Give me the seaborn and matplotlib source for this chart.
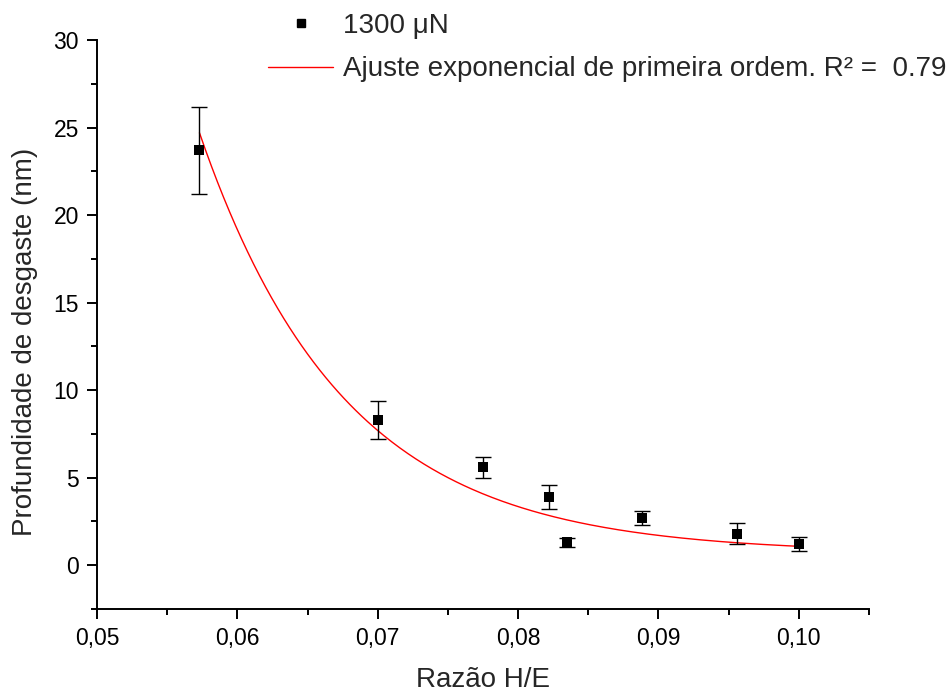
import numpy as np
import pandas as pd
import matplotlib
matplotlib.use("Agg")
import matplotlib.pyplot as plt
import seaborn as sns
from matplotlib.ticker import FixedLocator, FixedFormatter, MultipleLocator
from matplotlib.lines import Line2D

# ---- data ----
he_ratio = [0.0573, 0.0700, 0.0775, 0.0822, 0.0835, 0.0888, 0.0956, 0.1000]
depth = [23.7, 8.3, 5.6, 3.9, 1.3, 2.7, 1.8, 1.2]
depth_err = [2.5, 1.1, 0.6, 0.7, 0.28, 0.4, 0.6, 0.39]

# first-order exponential fit parameters (y = y0 + A*exp(-(x-x0)/t))
fit_y0 = 0.7
fit_A = 24.0
fit_x0 = 0.0573
fit_t = 0.0103
fit_start, fit_end = 0.0573, 0.1000

x_ticks = [0.05, 0.06, 0.07, 0.08, 0.09, 0.10]
x_tick_labels = ["0,05", "0,06", "0,07", "0,08", "0,09", "0,10"]
y_ticks = [0, 5, 10, 15, 20, 25, 30]
y_tick_labels = ["0", "5", "10", "15", "20", "25", "30"]

series_label = "1300 μN"
fit_label = "Ajuste exponencial de primeira ordem. R² =  0.79"
x_label = "Razão H/E"
y_label = "Profundidade de desgaste (nm)"

sns.set_style("ticks")
plt.rcParams["font.family"] = ["Liberation Sans", "DejaVu Sans"]

df = pd.DataFrame({"x": he_ratio, "y": depth, "err": depth_err})
fit_x = np.linspace(fit_start, fit_end, 300)
fit_df = pd.DataFrame({"x": fit_x,
                       "y": fit_y0 + fit_A * np.exp(-(fit_x - fit_x0) / fit_t)})

fig = plt.figure(figsize=(9.5, 6.93), dpi=100)
ax = fig.add_axes([97 / 950, 1 - 609 / 693, (869 - 97) / 950, (609 - 40) / 693])

sns.lineplot(data=fit_df, x="x", y="y", ax=ax, color="#ff0000", linewidth=1.0,
             legend=False, zorder=2)
ax.errorbar(df["x"], df["y"], yerr=df["err"], fmt="none", ecolor="black",
            elinewidth=1.0, capsize=6, capthick=1.0, zorder=3)
sns.scatterplot(data=df, x="x", y="y", ax=ax, marker="s", s=45, color="black",
                edgecolor="black", linewidth=0, zorder=4, legend=False)

ax.set_xlim(0.05, 0.105)
ax.set_ylim(-2.5, 30)
ax.xaxis.set_major_locator(FixedLocator(x_ticks))
ax.xaxis.set_major_formatter(FixedFormatter(x_tick_labels))
ax.xaxis.set_minor_locator(MultipleLocator(0.005))
ax.yaxis.set_major_locator(FixedLocator(y_ticks))
ax.yaxis.set_major_formatter(FixedFormatter(y_tick_labels))
ax.yaxis.set_minor_locator(MultipleLocator(2.5))

sns.despine(ax=ax)
for s in ["left", "bottom"]:
    ax.spines[s].set_linewidth(1.4)
    ax.spines[s].set_color("black")
ax.tick_params(which="major", direction="out", length=7, width=1.4,
               labelsize=16.5, colors="black", pad=6)
ax.tick_params(which="minor", direction="out", length=4, width=1.4, colors="black")

ax.set_xlabel(x_label, fontsize=20, labelpad=12)
ax.set_ylabel(y_label, fontsize=20, labelpad=10)
ax.yaxis.set_label_coords(-0.076, 0.47)

handles = [
    Line2D([], [], linestyle="none", marker="s", markersize=6, color="black"),
    Line2D([], [], color="#ff0000", linewidth=1.0),
]
fig.legend(handles, [series_label, fit_label], loc="upper left",
           bbox_to_anchor=(268 / 950, 1 - 13 / 693), frameon=False,
           fontsize=20, handlelength=2.34, handletextpad=0.36, labelspacing=0.63,
           borderaxespad=0, borderpad=0)

fig.savefig("out.png", dpi=100)
